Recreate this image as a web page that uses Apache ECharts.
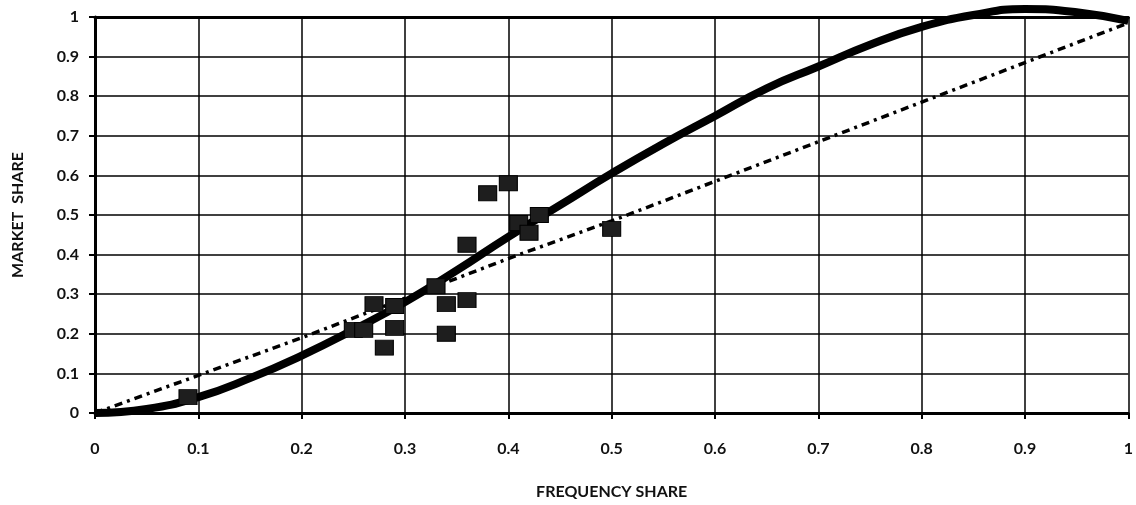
<!DOCTYPE html>
<html>
<head>
<meta charset="utf-8">
<script src="https://cdn.jsdelivr.net/npm/echarts@6/dist/echarts.min.js"></script>
<style>html,body{margin:0;padding:0;background:#fff}#c{width:1136px;height:505px}</style>
</head>
<body>
<div id="c"></div>
<script>
const xTicks = [0, 0.1, 0.2, 0.3, 0.4, 0.5, 0.6, 0.7, 0.8, 0.9, 1];
const yTicks = [0, 0.1, 0.2, 0.3, 0.4, 0.5, 0.6, 0.7, 0.8, 0.9, 1];
const obsFreq = [0.09, 0.25, 0.26, 0.27, 0.28, 0.29, 0.29, 0.33, 0.34, 0.34, 0.36, 0.36, 0.38, 0.40, 0.41, 0.42, 0.43, 0.50];
const obsMkt  = [0.04, 0.21, 0.21, 0.275, 0.165, 0.215, 0.27, 0.32, 0.275, 0.20, 0.285, 0.425, 0.555, 0.58, 0.48, 0.455, 0.50, 0.465];
const curveFreq = [0, 0.05, 0.1, 0.15, 0.2, 0.25, 0.3, 0.35, 0.4, 0.45, 0.5, 0.55, 0.6, 0.65, 0.7, 0.75, 0.8, 0.85, 0.9, 0.95, 1.0];
const curveMkt  = [0, 0.01, 0.04, 0.088, 0.145, 0.21, 0.28, 0.36, 0.445, 0.525, 0.605, 0.68, 0.75, 0.82, 0.875, 0.93, 0.975, 1.005, 1.02, 1.012, 0.99];
const diagFreq = [0, 0.1, 0.2, 0.3, 0.4, 0.5, 0.6, 0.7, 0.8, 0.9, 1.0];
const diagMkt  = [0, 0.095, 0.19, 0.29, 0.39, 0.485, 0.585, 0.685, 0.785, 0.885, 0.985];

const zip = (a, b) => a.map((v, i) => [v, b[i]]);
const font = 'Lato, "DejaVu Sans", sans-serif';
const txt = { fontFamily: font, fontSize: 16, fontWeight: 'bold', color: '#111' };
const fmt = ticks => v => { const t = ticks.find(k => Math.abs(k - v) < 1e-6); return t === undefined ? '' : String(t); };

const chart = echarts.init(document.getElementById('c'));
chart.setOption({
  animation: false,
  backgroundColor: '#fff',
  grid: { left: 95, right: 4, top: 17, bottom: 92 },
  xAxis: [{
    type: 'value', min: 0, max: 1, interval: 0.1,
    name: 'FREQUENCY SHARE', nameLocation: 'middle', nameGap: 71,
    nameTextStyle: txt,
    axisLine: { show: true, onZero: false, lineStyle: { color: '#000', width: 3 } },
    axisTick: { show: true, length: 6, lineStyle: { color: '#000', width: 2 } },
    axisLabel: Object.assign({ margin: 28, formatter: fmt(xTicks) }, txt),
    splitLine: { show: true, lineStyle: { color: '#000', width: 1.5 } }
  }, {
    type: 'value', min: 0, max: 1, interval: 0.1, position: 'top',
    axisLine: { show: true, onZero: false, lineStyle: { color: '#000', width: 3 } },
    axisTick: { show: false }, axisLabel: { show: false }, splitLine: { show: false }
  }],
  yAxis: {
    type: 'value', min: 0, max: 1, interval: 0.1,
    name: 'MARKET  SHARE', nameLocation: 'middle', nameGap: 69,
    nameTextStyle: txt,
    axisLine: { show: true, onZero: false, lineStyle: { color: '#000', width: 3 } },
    axisTick: { show: true, length: 6, lineStyle: { color: '#000', width: 2 } },
    axisLabel: Object.assign({ margin: 16, formatter: fmt(yTicks) }, txt),
    splitLine: { show: true, lineStyle: { color: '#000', width: 1.5 } }
  },
  series: [
    {
      type: 'line', data: zip(diagFreq, diagMkt), symbol: 'none', smooth: false, z: 3,
      lineStyle: { color: '#000', width: 3.5, type: [8, 5, 3, 5] }
    },
    {
      type: 'line', data: zip(curveFreq, curveMkt), symbol: 'none', smooth: true, clip: false, z: 4,
      lineStyle: { color: '#000', width: 8, cap: 'butt' }
    },
    {
      type: 'scatter', data: zip(obsFreq, obsMkt), symbol: 'rect', symbolSize: [18, 15], z: 5,
      itemStyle: { color: '#1e1e1e', opacity: 1, borderColor: '#000', borderWidth: 1 }
    }
  ]
});
</script>
</body>
</html>
